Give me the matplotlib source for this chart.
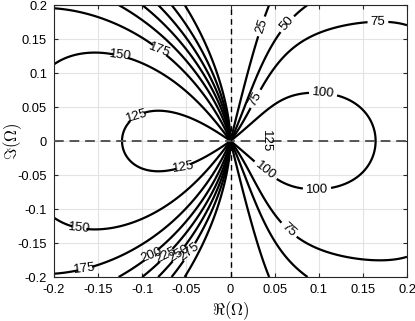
import numpy as np
import matplotlib
matplotlib.use("Agg")
import matplotlib.pyplot as plt
from matplotlib.ticker import FixedLocator, FuncFormatter

plt.rcParams['font.family'] = ['Liberation Sans', 'DejaVu Sans']
plt.rcParams['axes.unicode_minus'] = False
plt.rcParams['mathtext.fontset'] = 'cm'

levels = [25, 50, 75, 100, 125, 150, 175, 200, 225, 250, 275, 300]
ticks = [-0.2, -0.15, -0.1, -0.05, 0, 0.05, 0.1, 0.15, 0.2]

# contour traces (upper half plane; field is symmetric in Im)
c25_x = [0.054, 0.041, 0.0315, 0.024, 0.0164, 0.0088]
c25_y = [0.203, 0.166, 0.134, 0.104, 0.080, 0.041]
c50_x = [0.081, 0.058, 0.039, 0.024, 0.0127]
c50_y = [0.203, 0.171, 0.134, 0.085, 0.041]
c75_x = [0.200, 0.149, 0.115, 0.084, 0.054, 0.027, 0.016]
c75_y = [0.184, 0.177, 0.163, 0.139, 0.109, 0.063, 0.031]
c100_x = [0.162, 0.152, 0.130, 0.105, 0.084, 0.058, 0.028, 0.0127]
c100_y = [0.0, 0.046, 0.065, 0.071, 0.0725, 0.060, 0.031, 0.0137]
c125_x = [0.041, -0.1215, -0.110, -0.0875, -0.072, -0.050, -0.027]
c125_y = [0.0, 0.0, 0.031, 0.046, 0.048, 0.041, 0.021]
c150_x = [-0.201, -0.175, -0.148, -0.110, -0.065, -0.035]
c150_y = [0.112, 0.118, 0.120, 0.117, 0.085, 0.046]
c175_x = [-0.201, -0.148, -0.103, -0.080, -0.069, -0.035]
c175_y = [0.197, 0.180, 0.158, 0.136, 0.124, 0.080]
c200_x = [-0.125, -0.089, -0.027]
c200_y = [0.200, 0.175, 0.080]
c225_x = [-0.099, -0.072, -0.021]
c225_y = [0.200, 0.173, 0.080]
c250_x = [-0.082, -0.059, -0.018]
c250_y = [0.200, 0.165, 0.080]
c275_x = [-0.069, -0.052, -0.014]
c275_y = [0.200, 0.165, 0.080]
c300_x = [-0.059, -0.046, -0.011]
c300_y = [0.200, 0.165, 0.080]
# values read between contours (edges and the gaps beside the imaginary axis)
spot_x = [0.2, -0.2, -0.2, 0.2, 0.02, 0.01, -0.02, -0.006, -0.004, -0.003]
spot_y = [0.0, 0.0, 0.2, 0.2, 0.2, 0.1, 0.2, 0.1, 0.05, 0.03]
spot_f = [88, 140, 178, 65, 12, 12, 330, 330, 320, 320]

traces = {25: (c25_x, c25_y), 50: (c50_x, c50_y), 75: (c75_x, c75_y),
          100: (c100_x, c100_y), 125: (c125_x, c125_y), 150: (c150_x, c150_y),
          175: (c175_x, c175_y), 200: (c200_x, c200_y), 225: (c225_x, c225_y),
          250: (c250_x, c250_y), 275: (c275_x, c275_y), 300: (c300_x, c300_y)}

# label anchor positions
label_pos = [(-0.080, 0.136), (-0.125, 0.115), (-0.106, 0.036), (0.041, 0.166),
             (0.065, 0.171), (0.167, 0.180), (0.027, 0.063), (0.105, 0.071),
             (0.041, 0.0), (-0.0535, -0.040), (0.037, -0.0475), (0.098, -0.070),
             (0.066, -0.131), (-0.171, -0.119), (-0.165, -0.185), (-0.089, -0.175),
             (-0.072, -0.173), (-0.059, -0.165), (-0.046, -0.165)]


def basis(x, y):
    r = np.hypot(x, y)
    c = x / r
    cols = []
    for n, kmax in [(1, 2), (2, 3), (3, 3)]:
        for k in range(kmax + 1):
            cols.append(r**n * c**k)
    return np.stack(cols, axis=-1)


X, Y, F = [], [], []
for lv, (xs, ys) in traces.items():
    X += list(xs); Y += list(ys); F += [lv]*len(xs)
X += spot_x; Y += spot_y; F += spot_f
X = np.array(X); Y = np.array(Y); F = np.array(F, float)


# fit s(x,y) on each side of the imaginary axis so that
# f = 180 - 2*atan(s/x) passes through the read values
def fit_side(mask, power):
    x, y, f = X[mask], Y[mask], F[mask]
    phi = np.deg2rad((180 - f) / 2)
    w = np.hypot(x, y) ** (-power)
    A = basis(x, y) * (np.cos(phi) * w)[:, None]
    b = x * np.sin(phi) * w
    return np.linalg.lstsq(A, b, rcond=None)[0]


coef_left = fit_side(X < 0, 0.5)
coef_right = fit_side(X > 0, 1.0)


def field(x, y, coef):
    s = basis(x, y) @ coef
    return 180 - 2 * np.degrees(np.arctan(s / x))


fig = plt.figure(figsize=(4.15, 3.21), dpi=100)
ax = fig.add_axes([54/415, 1-277/321, (407-54)/415, (277-5)/321])

yy = np.linspace(-0.2, 0.2, 501)
for xr, coef in [((-0.2, -1e-5), coef_left), ((1e-5, 0.2), coef_right)]:
    xx = np.linspace(xr[0], xr[1], 300)
    XX, YY = np.meshgrid(xx, yy)
    ZZ = field(XX, YY, coef)
    cs = ax.contour(XX, YY, ZZ, levels=levels, colors='k', linewidths=1.6)
    pts = [p for p in label_pos if (p[0] - xr[0]) * (p[0] - xr[1]) <= 0]
    if pts:
        ax.clabel(cs, fmt='%d', fontsize=9.5, inline=True, inline_spacing=3, manual=pts)

ax.axhline(0, color='#555555', lw=1.4, ls=(0, (5, 3)), zorder=3)
ax.axvline(0, color='k', lw=1.0, ls=(0, (4, 3)), zorder=3)

ax.set_xlim(-0.2, 0.2)
ax.set_ylim(-0.2, 0.2)
ax.xaxis.set_major_locator(FixedLocator(ticks))
ax.yaxis.set_major_locator(FixedLocator(ticks))
fmt = FuncFormatter(lambda v, p: '%g' % round(v, 3))
ax.xaxis.set_major_formatter(fmt)
ax.yaxis.set_major_formatter(fmt)
ax.grid(True, color='#e3e3e3', lw=0.8)
ax.set_axisbelow(True)
ax.tick_params(direction='in', length=3, labelsize=9.3, pad=5, top=True, right=True, color='#262626')
for sp in ax.spines.values():
    sp.set_color('#262626'); sp.set_linewidth(0.8)
ax.set_xlabel(r'$\Re(\Omega)$', fontsize=12, va='center')
ax.set_ylabel(r'$\Im(\Omega)$', fontsize=12, va='center')
ax.xaxis.set_label_coords(0.5, -0.125)
ax.yaxis.set_label_coords(-0.117, 0.5)

fig.savefig('out.png', dpi=100)
